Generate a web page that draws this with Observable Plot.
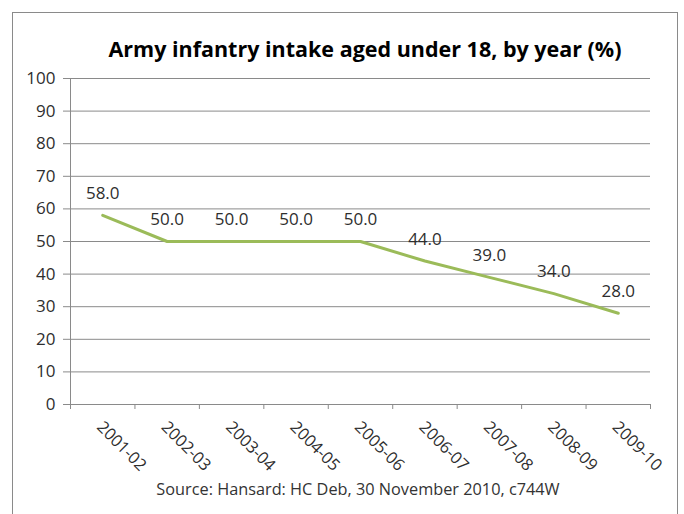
<!DOCTYPE html>
<html>
<head>
<meta charset="utf-8">
<script src="https://cdn.jsdelivr.net/npm/d3@7"></script>
<script src="https://cdn.jsdelivr.net/npm/@observablehq/plot@0.6"></script>
<style>
  html, body { margin: 0; padding: 0; background: #fff; }
  #chart { position: relative; width: 684px; height: 514px; overflow: hidden; background: #fff; }
  #frame { position: absolute; left: 12px; top: 12px; width: 666px; height: 540px; border: 1px solid #8a8a8a; box-sizing: border-box; }
  #title { position: absolute; left: 0; width: 730px; top: 34px; text-align: center;
           font-family: "Open Sans", sans-serif; font-weight: 700; font-size: 21.5px; color: #000; white-space: nowrap; }
  #caption { position: absolute; left: 0; width: 716px; top: 478px; text-align: center;
             font-family: "Open Sans", sans-serif; font-size: 16.3px; color: #333; white-space: nowrap; }
  #plot { position: absolute; left: 0; top: 0; }
</style>
</head>
<body>
<div id="chart">
  <div id="frame"></div>
  <div id="plot"></div>
  <div id="title">Army infantry intake aged under 18, by year (%)</div>
  <div id="caption">Source: Hansard: HC Deb, 30 November 2010, c744W</div>
</div>
<script>
// Financial years and the share of infantry recruits aged under 18 (%)
const years = ["2001-02", "2002-03", "2003-04", "2004-05", "2005-06", "2006-07", "2007-08", "2008-09", "2009-10"];
const shares = [58.0, 50.0, 50.0, 50.0, 50.0, 44.0, 39.0, 34.0, 28.0];
const yTicks = [0, 10, 20, 30, 40, 50, 60, 70, 80, 90, 100];

// Each year sits in the middle of its slot; slot edges carry the tick marks
const rows = years.map((year, i) => ({year, pos: i + 0.5, share: shares[i]}));
const edges = d3.range(years.length + 1);
const centers = rows.map(d => d.pos);

const grey = "#8a8a8a";
const ink = "#2e2e2e";
const font = "'Open Sans', sans-serif";

const chart = Plot.plot({
  width: 684,
  height: 514,
  marginTop: 78,
  marginBottom: 110,
  marginLeft: 70,
  marginRight: 34,
  style: {fontFamily: font, fontSize: "17px", color: ink, background: "transparent"},
  x: {type: "linear", domain: [0, years.length]},
  y: {domain: [0, 100]},
  marks: [
    Plot.gridY(yTicks, {stroke: grey, strokeOpacity: 1, strokeWidth: 1}),
    Plot.axisY(yTicks, {tickSize: 7, tickPadding: 8, stroke: grey, fill: ink, label: null, fontSize: 17}),
    Plot.ruleX([0], {stroke: grey}),
    Plot.ruleY([0], {stroke: grey}),
    Plot.axisX(edges, {tickSize: 5, stroke: grey, tickFormat: () => "", label: null}),
    Plot.axisX(centers, {
      tickSize: 0,
      tickRotate: 45,
      tickFormat: p => years[Math.floor(p)],
      fill: ink,
      fontSize: 16.5,
      label: null,
      dx: -3,
      dy: 8
    }),
    Plot.line(rows, {x: "pos", y: "share", stroke: "#9bbb59", strokeWidth: 3}),
    Plot.text(rows, {x: "pos", y: "share", text: d => d.share.toFixed(1), dy: -22, fill: ink, fontSize: 17})
  ]
});

document.getElementById("plot").appendChild(chart);
</script>
</body>
</html>
